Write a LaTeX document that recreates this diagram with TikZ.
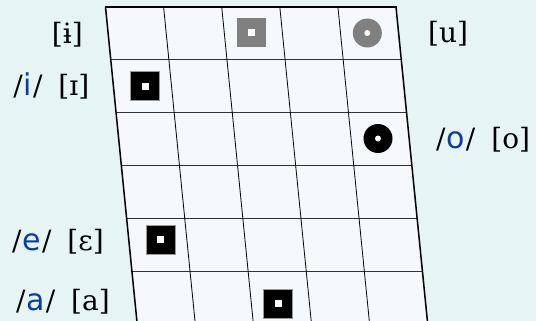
\documentclass[tikz,border=0pt]{standalone}
\usepackage{fontspec}
\setmainfont{DejaVu Serif}
\newfontfamily\bluefont{DejaVu Sans}
\definecolor{bg}{HTML}{E6F4F4}
\definecolor{cellfill}{HTML}{F5F9FC}
\definecolor{vblue}{HTML}{0B3D9E}
\definecolor{hline}{HTML}{333333}
\newcommand{\ph}[1]{{\bluefont\fontsize{30}{32}\selectfont\color{vblue}\kern1pt#1\kern1pt}}
\newcommand{\gapp}{\hspace{16pt}}
\begin{document}
\begin{tikzpicture}[x=1pt,y=-1pt,
  lbl/.style={inner sep=0pt, font=\fontsize{28}{32}\selectfont},
  sqmark/.style={rectangle, minimum size=29pt, inner sep=0pt, draw=black!40, line width=0.5pt},
  cmark/.style={circle, minimum size=29pt, inner sep=0pt},
  sqhole/.style={rectangle, fill=white, minimum size=7pt, inner sep=0pt},
  chole/.style={circle, fill=white, minimum size=6pt, inner sep=0pt}]
\useasboundingbox (0,0) rectangle (536,321);
\fill[bg] (0,0) rectangle (536,321);
\begin{scope}
\clip (0,0) rectangle (536,321);
\coordinate (TL) at (105.5,7);
\coordinate (TR) at (396,7);
\coordinate (BL) at (137.3,325);
\coordinate (BR) at (427.8,325);
\fill[cellfill] (TL) -- (TR) -- (BR) -- (BL) -- cycle;
\foreach \k in {1,...,5} {
  \pgfmathsetmacro{\yy}{7+52.9*\k}
  \pgfmathsetmacro{\xl}{105.5+0.1*(\yy-7)}
  \draw[hline, line width=1pt] (\xl,\yy) -- ({\xl+290.5},\yy);
}
\foreach \j in {1,...,4} {
  \draw[black, line width=0.8pt] ({105.5+58.1*\j},7) -- ({137.3+58.1*\j},325);
}
\draw[black, line width=1.5pt] (BL) -- (TL);
\draw[black, line width=1.5pt] (TR) -- (BR);
\draw[black, line width=2pt] ([xshift=-0.7pt]TL) -- ([xshift=0.7pt]TR);
\end{scope}
% markers
\node[sqmark, fill=black!50, draw=none] (m1) at (251,33) {};
\node[sqhole] at (m1) {};
\node[cmark, fill=black!50] (m2) at (367.3,33) {};
\node[chole] at (m2) {};
\node[sqmark, fill=black] (m3) at (145,86.2) {};
\node[sqhole] at (m3) {};
\node[cmark, fill=black] (m4) at (378,138.5) {};
\node[chole] at (m4) {};
\node[sqmark, fill=black] (m5) at (160.3,239.7) {};
\node[sqhole] at (m5) {};
\node[sqmark, fill=black] (m6) at (278,303.3) {};
\node[sqhole] at (m6) {};
% labels
\node[lbl, anchor=base east] (l1) at (83,43.5) {[ɨ]};
\node[lbl, anchor=base east] (l2) at (89.5,95.5) {/\ph{i}/\gapp[ɪ]};
\node[lbl, anchor=base west] (l3) at (428,42.5) {[u]};
\node[lbl, anchor=base west] (l4) at (436,148) {/\ph{o}/\gapp[o]};
\node[lbl, anchor=base east] (l5) at (104,250) {/\ph{e}/\gapp[ɛ]};
\node[lbl, anchor=base east] (l6) at (110,310.5) {/\ph{a}/\gapp[a]};
\end{tikzpicture}
\end{document}
